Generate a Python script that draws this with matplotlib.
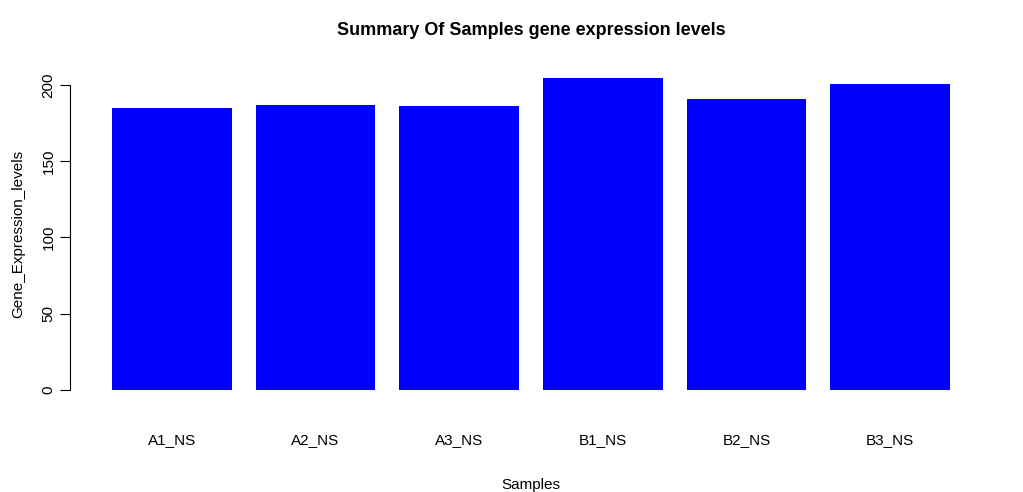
import matplotlib
matplotlib.use("Agg")
import matplotlib.pyplot as plt

samples = ["A1_NS", "A2_NS", "A3_NS", "B1_NS", "B2_NS", "B3_NS"]
values = [184.8, 186.6, 185.9, 204.3, 190.5, 200.4]

plt.rcParams['font.family'] = ['Liberation Sans', 'DejaVu Sans']
fig = plt.figure(figsize=(10.23, 4.92), dpi=100)
ax = fig.add_axes([0.0767, 0.182, 0.8847, 0.685])
lefts = [0.2 + 1.2 * i for i in range(len(samples))]
centers = [l + 0.5 for l in lefts]
ax.bar(centers, values, width=1.0, color="#0000FF")
ax.set_xlim(-0.08, 7.48)
ax.set_ylim(-8.2, 212.8)
for s in ["top", "right", "bottom"]:
    ax.spines[s].set_visible(False)
ax.spines["left"].set_bounds(0, 200)
ax.spines["left"].set_position(("outward", 6))
ax.set_yticks([0, 50, 100, 150, 200])
ax.set_yticklabels(["0", "50", "100", "150", "200"], rotation=90, va="center")
ax.tick_params(axis="y", length=7, labelsize=11)
ax.set_xticks(centers)
ax.set_xticklabels(samples, fontsize=11)
ax.tick_params(axis="x", length=0, pad=22)
ax.set_xlabel("Samples", fontsize=11, labelpad=22)
ax.set_ylabel("Gene_Expression_levels", fontsize=11, labelpad=12)
ax.set_title("Summary Of Samples gene expression levels", fontsize=13, fontweight="bold", pad=22)
fig.savefig("out.png", dpi=100)
